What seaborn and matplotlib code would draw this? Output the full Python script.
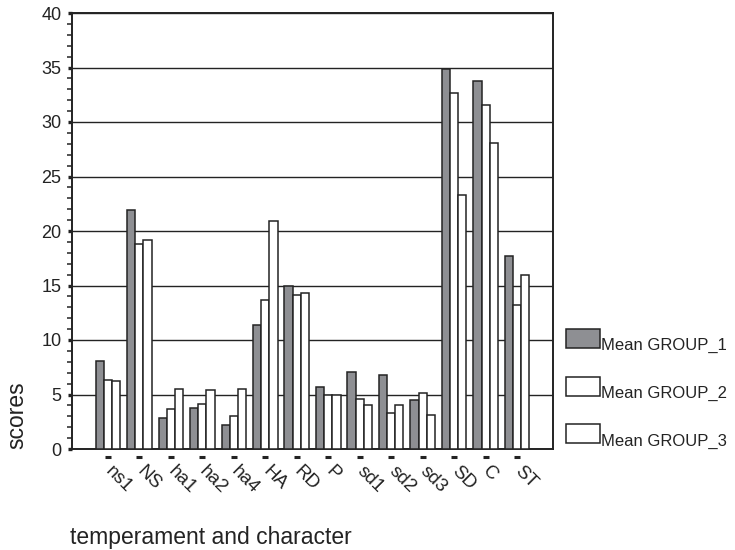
import numpy as np
import pandas as pd
import matplotlib
matplotlib.use("Agg")
import matplotlib.pyplot as plt
import matplotlib.transforms as mtransforms
from matplotlib.ticker import MultipleLocator
import seaborn as sns

# ---- data ----
traits = ["ns1", "NS", "ha1", "ha2", "ha4", "HA", "RD", "P",
          "sd1", "sd2", "sd3", "SD", "C", "ST"]
group_1 = [8.1, 21.9, 2.8, 3.8, 2.2, 11.4, 15.0, 5.7, 7.1, 6.8, 4.5, 34.9, 33.8, 17.7]
group_2 = [6.3, 18.8, 3.7, 4.1, 3.0, 13.7, 14.1, 5.0, 4.6, 3.3, 5.1, 32.7, 31.6, 13.2]
group_3 = [6.2, 19.2, 5.5, 5.4, 5.5, 20.9, 14.3, 5.0, 4.0, 4.0, 3.1, 23.3, 28.1, 16.0]
group_names = ["Mean GROUP_1", "Mean GROUP_2", "Mean GROUP_3"]
y_ticks = [0, 5, 10, 15, 20, 25, 30, 35, 40]

df = pd.DataFrame({
    "trait": traits * 3,
    "score": group_1 + group_2 + group_3,
    "group": [g for g in group_names for _ in traits],
})

sns.set_theme(style="white")
plt.rcParams["font.family"] = ["Liberation Sans", "DejaVu Sans"]

INK = "#232323"
fig = plt.figure(figsize=(7.35, 5.5), dpi=100)
ax = fig.add_axes([72 / 735, 1 - 449 / 550, (553 - 72) / 735, (449 - 13) / 550])

sns.barplot(data=df, x="trait", y="score", hue="group", order=traits,
            hue_order=group_names,
            palette=["#8e8f93", "#ffffff", "#ffffff"],
            edgecolor=INK, linewidth=1.1, width=0.78, saturation=1,
            errorbar=None, ax=ax, zorder=3)

ax.set_xlim(-1.14, 14.14)
ax.set_ylim(0, 40)
ax.set_yticks(y_ticks)
ax.yaxis.set_minor_locator(MultipleLocator(1))
ax.yaxis.grid(True, which="major", color=INK, linewidth=1.0, zorder=0)
ax.set_axisbelow(True)

for s in ax.spines.values():
    s.set_visible(True)
    s.set_color(INK)
    s.set_linewidth(1.4)

ax.tick_params(axis="y", which="major", direction="out", length=3, width=2.4,
               color=INK, labelsize=13, labelcolor=INK, pad=4.5, left=True)
ax.tick_params(axis="y", which="minor", direction="out", length=3.5, width=1.1,
               color=INK, left=True)
ax.tick_params(axis="x", which="major", length=0, pad=14.5, labelsize=13.5,
               labelcolor=INK)
ax.set_xticks(range(len(traits)))
ax.set_xticklabels(traits, rotation=-45, ha="left", va="center",
                   rotation_mode="anchor")

# small dash marks under each category
trans = mtransforms.blended_transform_factory(ax.transData, ax.transAxes)
ax.plot(range(len(traits)), [-0.019] * len(traits), transform=trans,
        ls="none", marker="_", markersize=5, mew=2.2, color=INK, clip_on=False)

ax.set_ylabel("scores", fontsize=16.5, color=INK)
ax.yaxis.set_label_coords(-0.091, 0.078)
ax.set_xlabel("temperament and character", fontsize=16.5, color=INK)
ax.xaxis.label.set_ha("left")
ax.xaxis.set_label_coords(-0.004, -0.177)

handles, labels = ax.get_legend_handles_labels()
leg = ax.legend(handles, labels, loc="upper left", frameon=False,
                bbox_to_anchor=(566 / 735, 1 - 329 / 550),
                bbox_transform=fig.transFigure, fontsize=12,
                handlelength=2.04, handleheight=1.38, labelspacing=1.72,
                handletextpad=0.05, borderpad=0, borderaxespad=0,
                labelcolor=INK)
for t in leg.get_texts():
    t.set_y(-6)

fig.savefig("out.png", dpi=100)
